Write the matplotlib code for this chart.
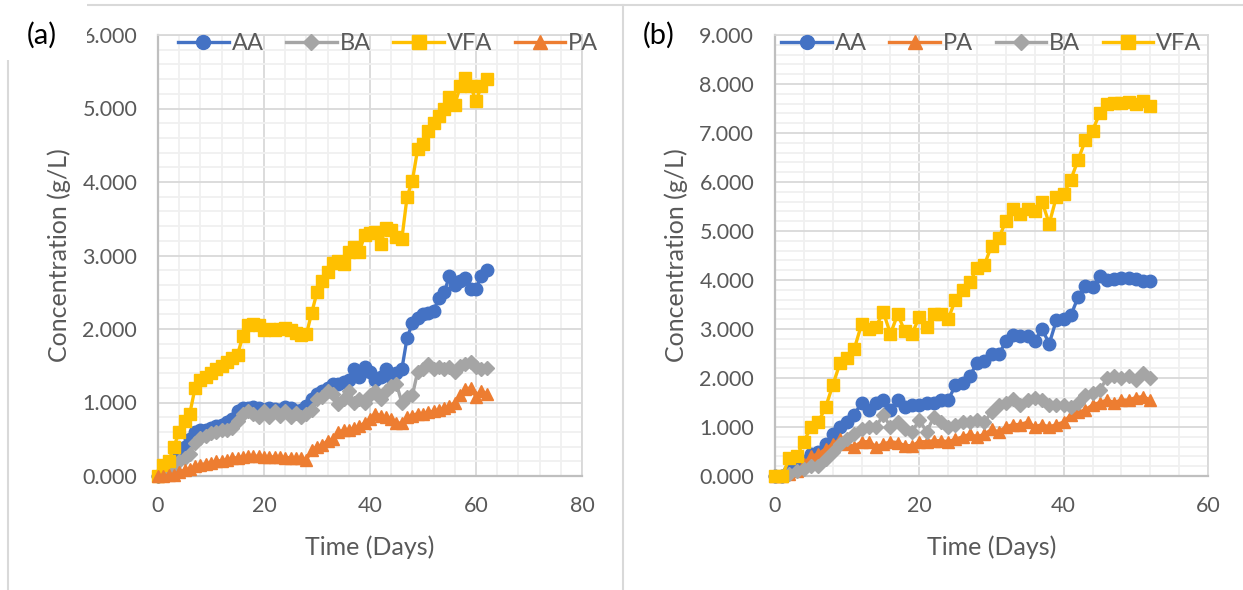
import matplotlib
matplotlib.use("Agg")
import matplotlib.pyplot as plt
from matplotlib.lines import Line2D
from matplotlib.patches import Rectangle
from matplotlib.ticker import MultipleLocator, FormatStrFormatter

plt.rcParams['font.family'] = ['Lato', 'DejaVu Sans']

# ---- panel (a) data, one sample per day ----
days_a = list(range(0, 63))
aa_a = [0, 0.05, 0.1, 0.15, 0.3, 0.4, 0.5, 0.6, 0.62, 0.63, 0.65, 0.68, 0.7, 0.73, 0.78, 0.88,
        0.92, 0.93, 0.94, 0.92, 0.9, 0.93, 0.91, 0.9, 0.94, 0.92, 0.88, 0.9, 0.95, 1.05, 1.12, 1.15,
        1.2, 1.25, 1.25, 1.28, 1.3, 1.45, 1.35, 1.48, 1.42, 1.3, 1.35, 1.45, 1.35, 1.4, 1.45, 1.88,
        2.08, 2.15, 2.2, 2.22, 2.25, 2.42, 2.5, 2.72, 2.6, 2.65, 2.7, 2.55, 2.55, 2.72, 2.8]
ba_a = [0, 0.02, 0.05, 0.1, 0.2, 0.25, 0.3, 0.45, 0.52, 0.55, 0.58, 0.6, 0.62, 0.63, 0.65, 0.75,
        0.85, 0.88, 0.85, 0.8, 0.88, 0.8, 0.88, 0.82, 0.88, 0.8, 0.86, 0.8, 0.85, 0.9, 1.05, 1.08,
        1.15, 1.12, 0.98, 1.05, 1.15, 1.0, 1.05, 1.0, 1.1, 1.15, 1.05, 1.15, 1.22, 1.25, 1.0, 1.08,
        1.1, 1.42, 1.45, 1.52, 1.45, 1.48, 1.45, 1.48, 1.42, 1.5, 1.52, 1.55, 1.48, 1.45, 1.47]
vfa_a = [0, 0.15, 0.2, 0.4, 0.6, 0.75, 0.85, 1.2, 1.3, 1.35, 1.4, 1.45, 1.5, 1.55, 1.6, 1.65,
         1.9, 2.05, 2.07, 2.05, 1.98, 2.0, 1.98, 2.0, 2.02, 1.98, 1.95, 1.92, 1.93, 2.22, 2.5, 2.65,
         2.78, 2.9, 2.92, 2.88, 3.05, 3.12, 3.05, 3.28, 3.3, 3.32, 3.15, 3.38, 3.35, 3.25, 3.22, 3.8,
         4.02, 4.45, 4.52, 4.7, 4.8, 4.9, 5.0, 5.15, 5.05, 5.3, 5.42, 5.3, 5.1, 5.3, 5.4]
pa_a = [0, 0.0, 0.01, 0.02, 0.05, 0.08, 0.1, 0.13, 0.15, 0.17, 0.18, 0.2, 0.21, 0.22, 0.24, 0.25,
        0.26, 0.27, 0.27, 0.27, 0.26, 0.26, 0.26, 0.26, 0.25, 0.25, 0.24, 0.24, 0.22, 0.35, 0.4, 0.42,
        0.48, 0.5, 0.6, 0.62, 0.63, 0.65, 0.68, 0.72, 0.78, 0.85, 0.82, 0.8, 0.78, 0.72, 0.72, 0.8,
        0.82, 0.85, 0.85, 0.87, 0.88, 0.9, 0.92, 0.95, 1.0, 1.1, 1.18, 1.2, 1.08, 1.15, 1.12]

# ---- panel (b) data ----
days_b = list(range(0, 53))
aa_b = [0, 0.0, 0.1, 0.2, 0.3, 0.45, 0.5, 0.65, 0.85, 1.0, 1.1, 1.25, 1.5, 1.35, 1.5, 1.55,
        1.35, 1.55, 1.4, 1.45, 1.45, 1.5, 1.5, 1.55, 1.55, 1.85, 1.9, 2.05, 2.3, 2.35, 2.5, 2.48,
        2.75, 2.88, 2.85, 2.85, 2.75, 3.0, 2.7, 3.18, 3.2, 3.28, 3.65, 3.88, 3.85, 4.08, 4.0, 4.02,
        4.05, 4.05, 4.03, 3.98, 3.98]
pa_b = [0, 0.0, 0.05, 0.1, 0.25, 0.4, 0.45, 0.55, 0.65, 0.75, 0.65, 0.6, 0.7, 0.7, 0.6, 0.65,
        0.7, 0.68, 0.62, 0.62, 0.7, 0.7, 0.72, 0.72, 0.7, 0.75, 0.8, 0.85, 0.8, 0.85, 0.95, 0.9,
        1.0, 1.05, 1.05, 1.1, 1.0, 1.05, 1.0, 1.05, 1.1, 1.25, 1.3, 1.35, 1.45, 1.5, 1.55, 1.5,
        1.55, 1.55, 1.6, 1.62, 1.55]
ba_b = [0, 0.0, 0.05, 0.1, 0.15, 0.2, 0.2, 0.35, 0.5, 0.65, 0.75, 0.85, 0.95, 1.0, 1.0, 1.25,
        1.0, 1.1, 0.95, 0.9, 1.15, 0.9, 1.2, 1.1, 1.0, 1.05, 1.1, 1.1, 1.15, 1.1, 1.3, 1.45,
        1.5, 1.58, 1.45, 1.55, 1.6, 1.55, 1.45, 1.45, 1.45, 1.4, 1.5, 1.65, 1.7, 1.75, 2.0, 2.05,
        2.0, 2.05, 1.95, 2.1, 2.0]
vfa_b = [0, 0.0, 0.37, 0.4, 0.7, 1.0, 1.1, 1.4, 1.85, 2.3, 2.4, 2.6, 3.1, 3.0, 3.05, 3.35,
         2.9, 3.3, 2.95, 2.9, 3.25, 3.05, 3.3, 3.3, 3.2, 3.6, 3.8, 3.95, 4.25, 4.3, 4.7, 4.85,
         5.2, 5.45, 5.35, 5.45, 5.4, 5.6, 5.15, 5.7, 5.75, 6.05, 6.45, 6.85, 7.05, 7.4, 7.6, 7.62,
         7.62, 7.63, 7.6, 7.65, 7.55]

C_AA, C_PA, C_BA, C_VFA = '#4472C4', '#ED7D31', '#A5A5A5', '#FFC000'
TXT = '#595959'

style = {
    'AA': dict(color=C_AA, marker='o', ms=9),
    'PA': dict(color=C_PA, marker='^', ms=9),
    'BA': dict(color=C_BA, marker='D', ms=7),
    'VFA': dict(color=C_VFA, marker='s', ms=9),
}

W, H = 1243, 590
fig = plt.figure(figsize=(W / 100, H / 100), dpi=100)


def setup(ax, xmax, ymax):
    ax.set_xlim(0, xmax)
    ax.set_ylim(0, ymax)
    ax.xaxis.set_major_locator(MultipleLocator(20))
    ax.xaxis.set_minor_locator(MultipleLocator(4))
    ax.yaxis.set_major_locator(MultipleLocator(1))
    ax.yaxis.set_minor_locator(MultipleLocator(0.2))
    ax.yaxis.set_major_formatter(FormatStrFormatter('%.3f'))
    ax.grid(which='major', color='#D9D9D9', lw=1.3)
    ax.grid(which='minor', color='#F0F0F0', lw=1.3)
    ax.set_axisbelow(True)
    ax.tick_params(which='both', length=0, labelsize=15.5, labelcolor=TXT)
    ax.tick_params(axis='x', pad=14.5)
    ax.tick_params(axis='y', pad=15)
    for s in ('left', 'bottom'):
        ax.spines[s].set_color('#BFBFBF')
        ax.spines[s].set_linewidth(1.6)
    for s in ('top', 'right'):
        ax.spines[s].set_color('#D9D9D9')
        ax.spines[s].set_linewidth(1.3)
    ax.set_xlabel('Time (Days)', fontsize=18, color=TXT)
    ax.set_ylabel('Concentration (g/L)', fontsize=18, color=TXT)
    pos = ax.get_position()
    w_px, h_px = pos.width * W, pos.height * H
    ax.xaxis.set_label_coords(0.5, -71 / h_px)
    ax.xaxis.label.set_va('center')
    ax.yaxis.set_label_coords(-99 / w_px, 0.5)
    ax.yaxis.label.set_va('center')


def draw(ax, x, series, order, cx):
    for name in order:
        st = style[name]
        ax.plot(x, series[name], color=st['color'], lw=2.4, marker=st['marker'],
                ms=st['ms'], mec=st['color'], mfc=st['color'], clip_on=False, zorder=3)
    handles = [Line2D([], [], color=style[n]['color'], lw=2.4, marker=style[n]['marker'],
                      ms=style[n]['ms'] + 1) for n in order]
    leg = ax.legend(handles, order, loc='upper center', bbox_to_anchor=(cx, 1.025), ncol=4,
                    frameon=False, fontsize=17, handlelength=2.15, handletextpad=0.12,
                    columnspacing=0.95, borderaxespad=0)
    for t in leg.get_texts():
        t.set_color(TXT)


ax1 = fig.add_axes([158 / W, 1 - 476 / H, (582 - 158) / W, (476 - 35) / H])
setup(ax1, 80, 6)
draw(ax1, days_a, {'AA': aa_a, 'BA': ba_a, 'VFA': vfa_a, 'PA': pa_a}, ['AA', 'BA', 'VFA', 'PA'], 0.543)

ax2 = fig.add_axes([775 / W, 1 - 476 / H, (1208 - 775) / W, (476 - 35) / H])
setup(ax2, 60, 9)
draw(ax2, days_b, {'AA': aa_b, 'PA': pa_b, 'BA': ba_b, 'VFA': vfa_b}, ['AA', 'PA', 'BA', 'VFA'], 0.5)

# chart borders and panel labels
border = '#D9D9D9'
fig.add_artist(Line2D([87 / W, 1], [1 - 5 / H, 1 - 5 / H], color=border, lw=1.5, zorder=9))
fig.add_artist(Line2D([8 / W, 8 / W], [0, 1 - 60 / H], color=border, lw=1.5, zorder=9))
fig.add_artist(Line2D([623 / W, 623 / W], [0, 1 - 5 / H], color=border, lw=1.5, zorder=9))
fig.add_artist(Rectangle((0, 1 - 60 / H), 87 / W, 60 / H, transform=fig.transFigure,
                         facecolor='white', edgecolor='none', zorder=10))
fig.text(42 / W, 1 - 35 / H, '(a)', fontsize=21, color='black', ha='center', va='center', zorder=11)
fig.text(659 / W, 1 - 35 / H, '(b)', fontsize=21, color='black', ha='center', va='center', zorder=11)

fig.savefig('out.png', dpi=100)
